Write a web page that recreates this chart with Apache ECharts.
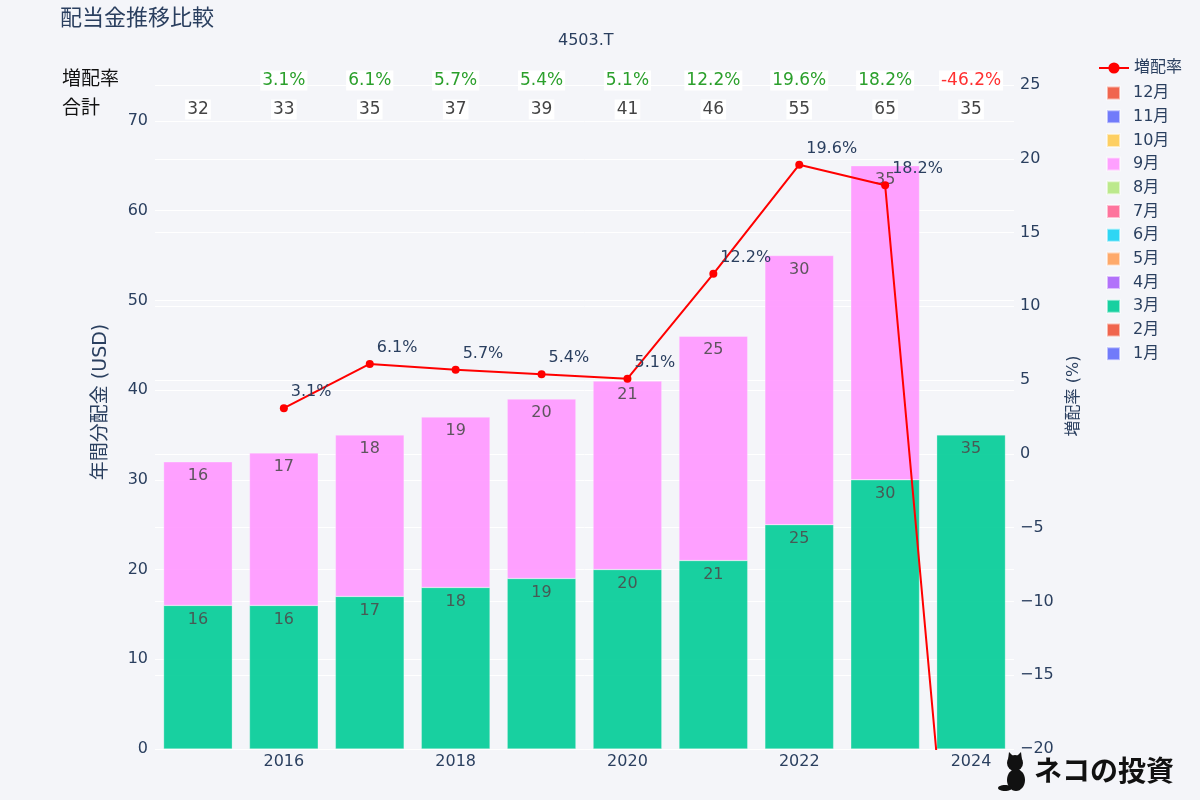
<!DOCTYPE html>
<html>
<head>
<meta charset="utf-8">
<script src="https://cdn.jsdelivr.net/npm/echarts@6/dist/echarts.min.js"></script>
<style>
html,body{margin:0;padding:0;background:#f4f5f9;}
#chart{width:1200px;height:800px;}
</style>
</head>
<body>
<div id="chart"></div>
<script>
const years = ['2015','2016','2017','2018','2019','2020','2021','2022','2023','2024'];
const months = ['1月','2月','3月','4月','5月','6月','7月','8月','9月','10月','11月','12月'];
const monthColors = ['#636efa','#EF553B','#00cc96','#ab63fa','#FFA15A','#19d3f3','#FF6692','#B6E880','#FF97FF','#FECB52','#636efa','#EF553B'];
const march = [16,16,17,18,19,20,21,25,30,35];
const september = [16,17,18,19,20,21,25,30,35,null];
const totals = [32,33,35,37,39,41,46,55,65,35];
const growth = [null,3.1,6.1,5.7,5.4,5.1,12.2,19.6,18.2,-46.2];
const leftTicks = {min:0, max:74, interval:10};
const rightTicks = {min:-20, max:25, interval:5};

const FONT = '"DejaVu Sans", "Noto Sans CJK JP", sans-serif';
const TXT = '#2a3f5f';

const monthData = {'3月': march, '9月': september};

const barSeries = months.map((m, i) => ({
  name: m,
  type: 'bar',
  stack: 'total',
  xAxisIndex: 0,
  yAxisIndex: 0,
  barCategoryGap: '20%',
  data: monthData[m] ? monthData[m].slice() : years.map(() => null),
  itemStyle: {color: monthColors[i], opacity: 0.9, borderColor: 'rgba(255,255,255,0.6)', borderWidth: 0.5},
  label: {show: true, position: 'insideTop', distance: 6, color: '#4d4d4d', fontSize: 16, fontFamily: FONT,
    formatter: p => (p.value == null ? '' : String(p.value))},
  emphasis: {disabled: true}
}));

const lineSeries = {
  name: '増配率',
  type: 'line',
  xAxisIndex: 0,
  yAxisIndex: 1,
  data: growth.map((g, i) => (i === growth.length - 1 ? {value: g, label: {show: false}} : g)),
  connectNulls: false,
  clip: true,
  symbol: 'circle',
  symbolSize: 8,
  lineStyle: {color: '#ff0000', width: 2},
  itemStyle: {color: '#ff0000'},
  z: 10,
  label: {show: true, position: 'right', offset: [-2, -16], color: TXT, fontSize: 16, fontFamily: FONT,
    formatter: p => (p.value == null ? '' : p.value.toFixed(1) + '%')},
  emphasis: {disabled: true}
};

const rowLabel = {show: true, position: 'inside', backgroundColor: '#ffffff', padding: [2, 2, 1, 2], fontSize: 17, fontFamily: FONT, opacity: 1};

const growthRow = {
  type: 'scatter',
  xAxisIndex: 1,
  yAxisIndex: 2,
  symbolSize: 1,
  silent: true,
  itemStyle: {opacity: 1, color: 'rgba(0,0,0,0)'},
  data: growth.map((g, i) => g == null ? null : {
    value: [i, 1],
    label: {formatter: g.toFixed(1) + '%', color: g < 0 ? '#ff3030' : '#2ca02c'}
  }).filter(d => d),
  label: rowLabel,
  emphasis: {disabled: true}
};

const totalRow = {
  type: 'scatter',
  xAxisIndex: 1,
  yAxisIndex: 2,
  symbolSize: 1,
  silent: true,
  itemStyle: {opacity: 1, color: 'rgba(0,0,0,0)'},
  data: totals.map((t, i) => ({value: [i, 0], label: {formatter: String(t)}})),
  label: Object.assign({}, rowLabel, {color: '#444444'}),
  emphasis: {disabled: true}
};

const option = {
  backgroundColor: '#f4f5f9',
  animation: false,
  textStyle: {fontFamily: FONT},
  title: [
    {text: '配当金推移比較', left: 55, top: 3, textStyle: {fontSize: 22, fontWeight: 'normal', color: TXT, fontFamily: FONT}},
    {text: '4503.T', left: 553, top: 28, textStyle: {fontSize: 16, fontWeight: 'normal', color: TXT, fontFamily: FONT}}
  ],
  legend: [
    {data: ['増配率'], orient: 'vertical', left: 1093, top: 55, itemWidth: 30, itemHeight: 14, itemGap: 8,
      textStyle: {fontSize: 16, color: TXT, fontFamily: FONT}},
    {data: months.slice().reverse().map(m => ({name: m, icon: 'rect'})), orient: 'vertical', left: 1101, top: 80,
      itemWidth: 13, itemHeight: 13, itemGap: 7.7,
      textStyle: {fontSize: 16, color: TXT, fontFamily: FONT, padding: [0, 0, 0, 8]}}
  ],
  grid: [
    {left: 155, right: 186, top: 85, bottom: 51},
    {left: 155, right: 186, top: 66, height: 58}
  ],
  xAxis: [
    {type: 'category', gridIndex: 0, data: years, boundaryGap: true,
      axisLine: {show: false}, axisTick: {show: false},
      axisLabel: {interval: i => i % 2 === 1, color: TXT, fontSize: 16, fontFamily: FONT, margin: 5}},
    {type: 'category', gridIndex: 1, data: years, boundaryGap: true, show: false}
  ],
  yAxis: [
    {type: 'value', gridIndex: 0, min: leftTicks.min, max: leftTicks.max, interval: leftTicks.interval,
      axisLine: {show: false}, axisTick: {show: false},
      axisLabel: {color: TXT, fontSize: 16, fontFamily: FONT, showMaxLabel: false, margin: 7},
      splitLine: {lineStyle: {color: '#ffffff', width: 1}}},
    {type: 'value', gridIndex: 0, position: 'right', min: rightTicks.min, max: rightTicks.max, interval: rightTicks.interval,
      axisLine: {show: false}, axisTick: {show: false},
      axisLabel: {color: TXT, fontSize: 16, fontFamily: FONT, margin: 6,
        formatter: v => String(v).replace('-', '\u2212')},
      splitLine: {lineStyle: {color: '#ffffff', width: 1}}},
    {type: 'category', gridIndex: 1, data: ['合計', '増配率'], boundaryGap: true,
      axisLine: {show: false}, axisTick: {show: false}, splitLine: {show: false},
      axisLabel: {align: 'left', margin: 93, color: '#111', fontSize: 19, fontFamily: FONT}}
  ],
  series: [...barSeries, lineSeries, growthRow, totalRow],
  graphic: [
    {type: 'text', x: 101, y: 402, rotation: Math.PI / 2,
      style: {text: '年間分配金 (USD)', fontSize: 19, fill: TXT, fontFamily: FONT, align: 'center', verticalAlign: 'middle'}},
    {type: 'text', x: 1074, y: 396, rotation: Math.PI / 2,
      style: {text: '増配率 (%)', fontSize: 16, fill: TXT, fontFamily: FONT, align: 'center', verticalAlign: 'middle'}},
    {type: 'group', left: 998, top: 752, children: [
      {type: 'circle', shape: {cx: 16, cy: 11, r: 8}, style: {fill: '#111'}},
      {type: 'polygon', shape: {points: [[9, 8], [10, 0], [15, 5]]}, style: {fill: '#111'}},
      {type: 'polygon', shape: {points: [[17, 5], [22, 0], [23, 8]]}, style: {fill: '#111'}},
      {type: 'ellipse', shape: {cx: 17, cy: 28, rx: 9, ry: 11}, style: {fill: '#111'}},
      {type: 'ellipse', shape: {cx: 6, cy: 36, rx: 7, ry: 3}, style: {fill: '#111'}}
    ]},
    {type: 'text', left: 1034, top: 756, style: {text: 'ネコの投資', fontSize: 28, fontWeight: 'bold', fill: '#111',
      fontFamily: '"Noto Sans CJK JP", sans-serif'}}
  ]
};

const chart = echarts.init(document.getElementById('chart'), null, {renderer: 'canvas'});
chart.setOption(option);
</script>
</body>
</html>
